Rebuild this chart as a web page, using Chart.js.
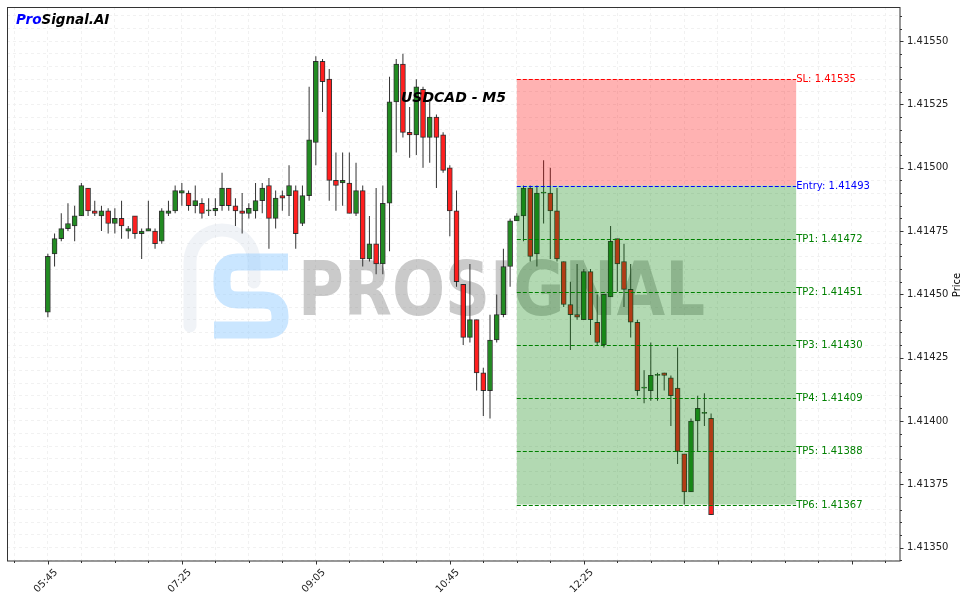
<!DOCTYPE html>
<html>
<head>
<meta charset="utf-8">
<title>USDCAD - M5</title>
<style>
  html, body { margin: 0; padding: 0; background: #fff; }
  canvas { display: block; }
</style>
<script src="https://cdn.jsdelivr.net/npm/chart.js@4.4.1/dist/chart.umd.min.js"></script>
</head>
<body>
<canvas id="chart" width="969" height="603"></canvas>
<script>
// candles, 5 minute bars starting 05:45
const opens = [1.41443,1.41466,1.41472,1.41476,1.41477,1.41481,1.41492,1.41483,1.41481,1.41483,
  1.41478,1.41480,1.41475,1.41481,1.41474,1.41475,1.41475,1.41471,1.41482,1.41483,
  1.41490,1.41490,1.41485,1.41486,1.41483,1.41483,1.41485,1.41492,1.41485,1.41483,
  1.41482,1.41483,1.41487,1.41493,1.41480,1.41489,1.41489,1.41491,1.41478,1.41489,
  1.41510,1.41542,1.41535,1.41495,1.41494,1.41494,1.41482,1.41491,1.41464,1.41470,
  1.41462,1.41486,1.41526,1.41541,1.41514,1.41513,1.41531,1.41512,1.41520,1.41513,
  1.41500,1.41483,1.41454,1.41433,1.41440,1.41419,1.41412,1.41432,1.41442,1.41461,
  1.41479,1.41481,1.41492,1.41466,1.41490,1.41490,1.41483,1.41463,1.41446,1.41442,
  1.41440,1.41459,1.41439,1.41430,1.41449,1.41472,1.41463,1.41452,1.41439,1.41413,
  1.41412,1.41418,1.41419,1.41417,1.41413,1.41387,1.41372,1.41400,1.41403,1.41401];
const highs = [1.41466,1.41474,1.41482,1.41486,1.41485,1.41494,1.41492,1.41487,1.41485,1.41484,
  1.41484,1.41487,1.41477,1.41481,1.41476,1.41487,1.41476,1.41484,1.41487,1.41493,
  1.41494,1.41491,1.41493,1.41488,1.41488,1.41488,1.41498,1.41492,1.41488,1.41490,
  1.41486,1.41494,1.41494,1.41496,1.41491,1.41491,1.41501,1.41493,1.41493,1.41532,
  1.41544,1.41543,1.41539,1.41506,1.41506,1.41506,1.41502,1.41493,1.41481,1.41492,
  1.41493,1.41536,1.41543,1.41545,1.41524,1.41535,1.41532,1.41526,1.41521,1.41514,
  1.41501,1.41491,1.41454,1.41462,1.41440,1.41421,1.41442,1.41450,1.41468,1.41480,
  1.41482,1.41493,1.41493,1.41493,1.41503,1.41500,1.41492,1.41463,1.41455,1.41462,
  1.41460,1.41460,1.41450,1.41450,1.41477,1.41472,1.41470,1.41462,1.41440,1.41420,
  1.41431,1.41419,1.41419,1.41418,1.41429,1.41387,1.41401,1.41410,1.41411,1.41403];
const lows = [1.41441,1.41461,1.41471,1.41475,1.41471,1.41481,1.41481,1.41481,1.41475,1.41474,
  1.41474,1.41472,1.41472,1.41472,1.41464,1.41475,1.41468,1.41470,1.41481,1.41482,
  1.41485,1.41483,1.41482,1.41480,1.41481,1.41481,1.41483,1.41483,1.41477,1.41474,
  1.41480,1.41480,1.41482,1.41468,1.41476,1.41483,1.41481,1.41468,1.41477,1.41487,
  1.41501,1.41522,1.41487,1.41483,1.41485,1.41482,1.41481,1.41461,1.41463,1.41458,
  1.41458,1.41467,1.41506,1.41512,1.41504,1.41505,1.41500,1.41502,1.41492,1.41498,
  1.41473,1.41453,1.41430,1.41431,1.41412,1.41402,1.41401,1.41431,1.41441,1.41453,
  1.41479,1.41471,1.41463,1.41461,1.41478,1.41464,1.41463,1.41445,1.41428,1.41440,
  1.41440,1.41434,1.41430,1.41429,1.41449,1.41451,1.41445,1.41433,1.41410,1.41407,
  1.41408,1.41408,1.41412,1.41398,1.41383,1.41367,1.41372,1.41388,1.41398,1.41363];
const closes = [1.41465,1.41472,1.41476,1.41478,1.41481,1.41493,1.41483,1.41482,1.41483,1.41478,
  1.41480,1.41477,1.41476,1.41474,1.41475,1.41476,1.41470,1.41483,1.41483,1.41491,
  1.41491,1.41485,1.41487,1.41482,1.41483,1.41484,1.41492,1.41485,1.41483,1.41482,
  1.41484,1.41487,1.41492,1.41480,1.41488,1.41488,1.41493,1.41474,1.41489,1.41511,
  1.41542,1.41534,1.41495,1.41493,1.41495,1.41482,1.41491,1.41464,1.41470,1.41462,
  1.41486,1.41526,1.41541,1.41514,1.41513,1.41532,1.41512,1.41520,1.41512,1.41499,
  1.41483,1.41455,1.41433,1.41440,1.41419,1.41412,1.41432,1.41442,1.41461,1.41479,
  1.41481,1.41492,1.41465,1.41490,1.41490,1.41483,1.41464,1.41446,1.41442,1.41441,
  1.41459,1.41440,1.41431,1.41450,1.41471,1.41462,1.41452,1.41439,1.41412,1.41413,
  1.41418,1.41418,1.41418,1.41410,1.41388,1.41372,1.41400,1.41405,1.41403,1.41363];

// x tick labels (candle index -> time)
const timeTickIdx = [0, 20, 40, 60, 80];
const timeTickLabels = ['05:45', '07:25', '09:05', '10:45', '12:25'];

// trade levels
const levelNames = ['SL', 'Entry', 'TP1', 'TP2', 'TP3', 'TP4', 'TP5', 'TP6'];
const levelValues = [1.41535, 1.41493, 1.41472, 1.41451, 1.41430, 1.41409, 1.41388, 1.41367];
const levelColors = ['#ff0000', '#0000ff', '#008000', '#008000', '#008000', '#008000', '#008000', '#008000'];
const zoneFrom = 70;
const zoneTo = 111.7;

const UP = '#228b22';
const DOWN = '#ff1f1f';
const FONT = 'DejaVu Sans';
const GRID = '#f1f1f1';

const candleColors = opens.map((o, i) => closes[i] >= o ? UP : DOWN);

const xTickValues = [];
for (let v = -5; v <= 125; v += 5) xTickValues.push(v);
const yTickPoints = [];
for (let p = 141345; p <= 141560; p += 5) yTickPoints.push(p);

function noPad(s) {
  s.paddingTop = 0;
  s.paddingBottom = 0;
  s.paddingLeft = 0;
  s.paddingRight = 0;
}

const overlay = {
  id: 'overlay',
  beforeDatasetsDraw(chart) {
    const c = chart.ctx;
    const ca = chart.chartArea;
    c.save();
    c.beginPath();
    c.rect(ca.left, ca.top, ca.width, ca.height);
    c.clip();
    // faint logo arch
    c.strokeStyle = 'rgba(205,215,230,0.3)';
    c.lineWidth = 13;
    c.lineCap = 'round';
    c.beginPath();
    c.moveTo(190, 326);
    c.lineTo(190, 262);
    c.arc(222, 262, 32, Math.PI, 0);
    c.lineTo(254, 282);
    c.stroke();
    // blue S
    c.strokeStyle = 'rgba(150,205,255,0.5)';
    c.lineWidth = 17;
    c.lineCap = 'butt';
    c.beginPath();
    c.moveTo(288, 262);
    c.lineTo(238, 262);
    c.quadraticCurveTo(222, 262, 222, 278);
    c.lineTo(222, 284);
    c.quadraticCurveTo(222, 300, 238, 300);
    c.lineTo(263, 300);
    c.quadraticCurveTo(280, 300, 280, 316);
    c.lineTo(280, 318);
    c.quadraticCurveTo(280, 330, 266, 330);
    c.lineTo(214, 330);
    c.stroke();
    // watermark text
    c.font = 'bold 74px "' + FONT + '"';
    c.fillStyle = 'rgba(128,128,128,0.42)';
    c.textBaseline = 'alphabetic';
    const w = c.measureText('PROSIGNAL').width;
    c.translate(298, 315);
    c.scale(407 / w, 1);
    c.fillText('PROSIGNAL', 0, 0);
    c.restore();
  },
  afterDatasetsDraw(chart) {
    const c = chart.ctx;
    const xs = chart.scales.x, ys = chart.scales.y;
    const x0 = xs.getPixelForValue(zoneFrom);
    const x1 = xs.getPixelForValue(zoneTo);
    const ySL = ys.getPixelForValue(levelValues[0]);
    const yEn = ys.getPixelForValue(levelValues[1]);
    const yLast = ys.getPixelForValue(levelValues[levelValues.length - 1]);
    c.save();
    c.fillStyle = 'rgba(255,0,0,0.3)';
    c.fillRect(x0, ySL, x1 - x0, yEn - ySL);
    c.fillStyle = 'rgba(0,128,0,0.3)';
    c.fillRect(x0, yEn, x1 - x0, yLast - yEn);
    c.lineWidth = 1;
    c.setLineDash([4, 2]);
    c.font = '10px "' + FONT + '"';
    c.textBaseline = 'middle';
    c.textAlign = 'left';
    levelValues.forEach((v, i) => {
      const y = Math.round(ys.getPixelForValue(v)) + 0.5;
      c.strokeStyle = levelColors[i];
      c.beginPath();
      c.moveTo(x0, y);
      c.lineTo(x1, y);
      c.stroke();
      c.fillStyle = levelColors[i];
      c.fillText(levelNames[i] + ': ' + v.toFixed(5), x1, y);
    });
    c.restore();
  },
  afterDraw(chart) {
    const c = chart.ctx;
    const ca = chart.chartArea;
    const xs = chart.scales.x, ys = chart.scales.y;
    c.save();
    // frame
    c.strokeStyle = '#333';
    c.lineWidth = 1;
    c.setLineDash([]);
    c.strokeRect(ca.left + 0.5, ca.top + 0.5, ca.width - 0.5, ca.height - 0.5);
    // tick marks
    c.beginPath();
    xTickValues.forEach(v => {
      const px = Math.round(xs.getPixelForValue(v)) + 0.5;
      const len = v % 20 === 0 ? 3.5 : 2;
      c.moveTo(px, ca.bottom);
      c.lineTo(px, ca.bottom + len);
    });
    yTickPoints.forEach(p => {
      const py = Math.round(ys.getPixelForValue(p / 1e5)) + 0.5;
      const len = p % 25 === 0 ? 3.5 : 2;
      c.moveTo(ca.right, py);
      c.lineTo(ca.right + len, py);
    });
    c.stroke();
    // time labels
    c.fillStyle = '#222';
    c.font = '10px "' + FONT + '"';
    c.textAlign = 'center';
    c.textBaseline = 'middle';
    timeTickIdx.forEach((idx, i) => {
      const px = xs.getPixelForValue(idx);
      c.save();
      c.translate(px - 2, ca.bottom + 20);
      c.rotate(-Math.PI / 4);
      c.fillText(timeTickLabels[i], 0, 0);
      c.restore();
    });
    // axis title
    c.save();
    c.translate(957, (ca.top + ca.bottom) / 2 + 1);
    c.rotate(-Math.PI / 2);
    c.fillStyle = '#000';
    c.fillText('Price', 0, 0);
    c.restore();
    // brand
    c.font = 'italic bold 13.5px "' + FONT + '"';
    c.textAlign = 'left';
    c.textBaseline = 'alphabetic';
    c.fillStyle = '#0000ff';
    c.fillText('Pro', 16, 24);
    const pw = c.measureText('Pro').width;
    c.fillStyle = '#000';
    c.fillText('Signal.AI', 16 + pw, 24);
    // title
    c.font = 'italic bold 14px "' + FONT + '"';
    c.textAlign = 'center';
    c.fillText('USDCAD - M5', (ca.left + ca.right) / 2, ca.top + 94.5);
    c.restore();
  }
};

const ctx = document.getElementById('chart').getContext('2d');
new Chart(ctx, {
  type: 'bar',
  data: {
    datasets: [
      {
        label: 'wick',
        data: lows.map((l, i) => ({ x: i, y: [l, highs[i]] })),
        backgroundColor: '#333',
        barThickness: 1,
        grouped: false,
        inflateAmount: 0,
        order: 2
      },
      {
        label: 'body',
        data: opens.map((o, i) => ({ x: i, y: [o, closes[i]] })),
        backgroundColor: candleColors,
        borderColor: 'rgba(20,20,20,0.85)',
        borderWidth: 1,
        borderSkipped: false,
        barThickness: 5,
        minBarLength: 1,
        grouped: false,
        order: 1
      }
    ]
  },
  options: {
    responsive: false,
    animation: false,
    events: [],
    layout: { padding: { left: 7, top: 7, right: 0, bottom: 0 } },
    plugins: { legend: { display: false }, tooltip: { enabled: false }, title: { display: false } },
    scales: {
      x: {
        type: 'linear',
        min: -6.1,
        max: 127.2,
        offset: false,
        grid: { offset: false, color: GRID, lineWidth: 1, drawTicks: false },
        border: { display: false, dash: [3, 3] },
        ticks: { display: false },
        afterBuildTicks: s => { s.ticks = xTickValues.map(v => ({ value: v })); },
        afterFit: s => { s.height = 42; noPad(s); }
      },
      y: {
        type: 'linear',
        position: 'right',
        min: 1.413447,
        max: 1.415635,
        bounds: 'data',
        grid: { color: GRID, lineWidth: 1, drawTicks: false },
        border: { display: false, dash: [3, 3] },
        ticks: {
          autoSkip: false,
          padding: 7,
          color: '#222',
          font: { family: FONT, size: 10 },
          callback: v => Math.round(v * 1e5) % 25 === 0 ? v.toFixed(5) : ''
        },
        afterBuildTicks: s => { s.ticks = yTickPoints.map(p => ({ value: p / 1e5 })); },
        afterFit: s => { s.width = 69; noPad(s); }
      }
    }
  },
  plugins: [overlay]
});
</script>
</body>
</html>
